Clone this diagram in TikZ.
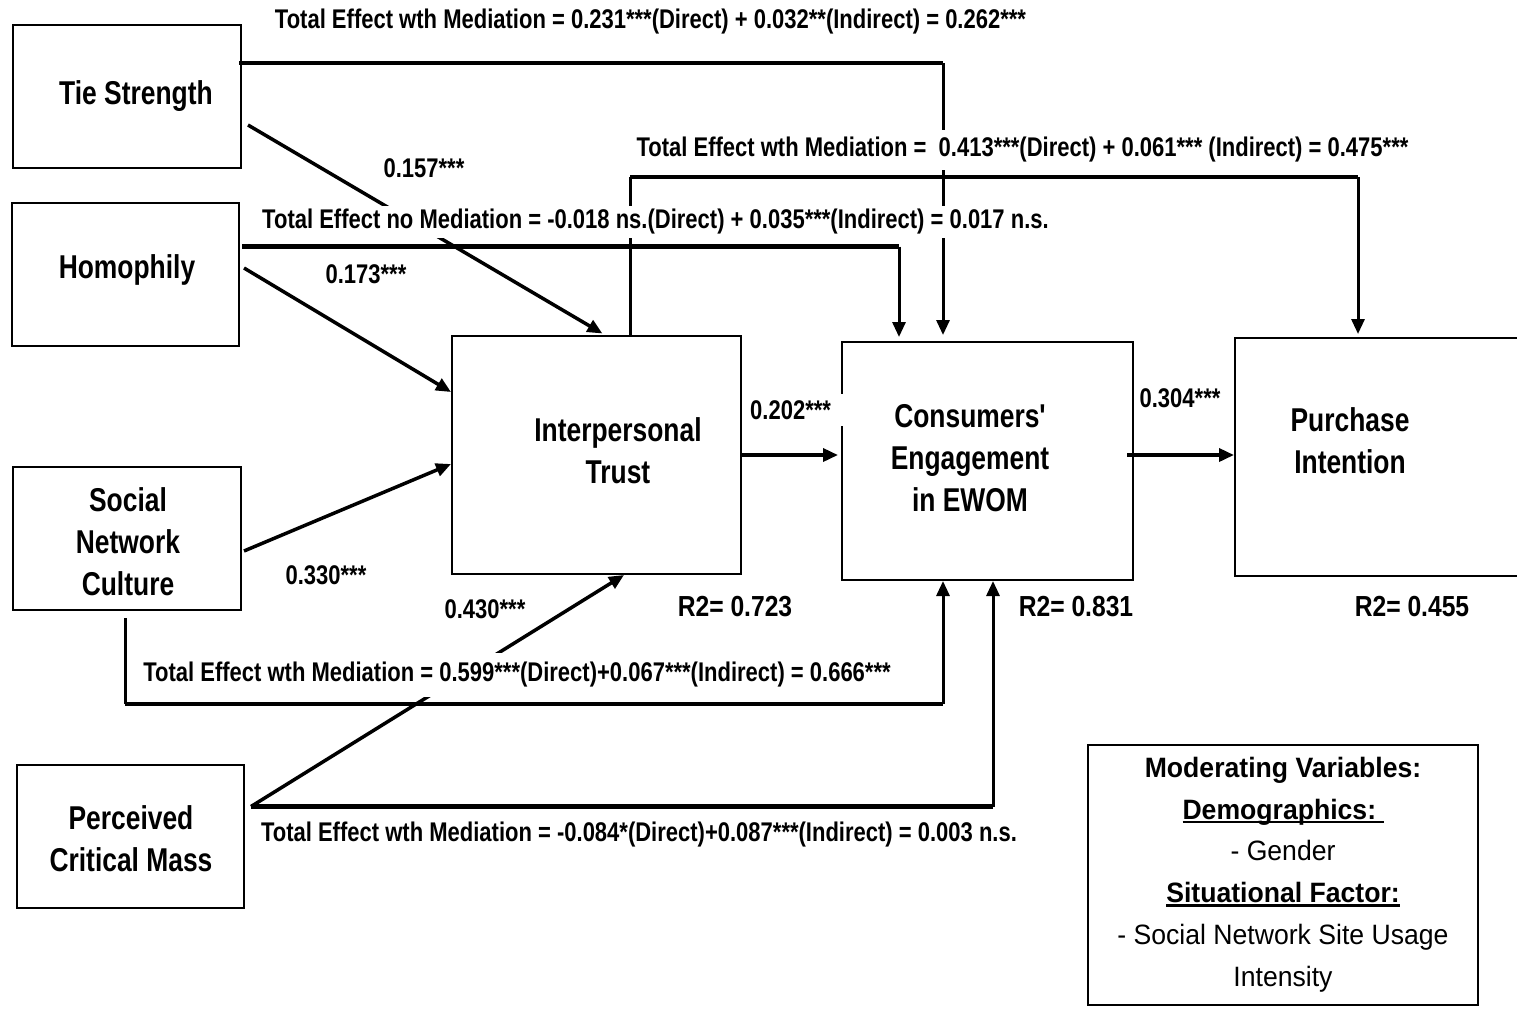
\documentclass[tikz,border=0pt]{standalone}
\usepackage{fontspec}
\setmainfont{Liberation Sans}
\newfontfamily\boxfont{Liberation Sans}[FakeStretch=0.8,Ligatures=TeXOff]
\newfontfamily\labfont{Liberation Sans}[FakeStretch=0.815]
\newfontfamily\rfont{Liberation Sans}[FakeStretch=0.85]
\newfontfamily\modfont{Liberation Sans}[FakeStretch=0.95]
\usetikzlibrary{arrows.meta,calc}
\newsavebox\ulbox
\newcommand\myul[1]{\sbox\ulbox{#1}\rlap{\rule[-4pt]{\wd\ulbox}{2.5pt}}\usebox\ulbox}
\begin{document}
\begin{tikzpicture}[x=1pt,y=-1pt,
  box/.style={draw, line width=2pt, rectangle, inner sep=0pt},
  boxtxt/.style={font=\boxfont\bfseries\fontsize{33}{42}\selectfont, align=center, inner sep=0pt},
  lab/.style={font=\labfont\bfseries\fontsize{27}{30}\selectfont, inner sep=1pt},
  labw/.style={lab, fill=white, inner ysep=6pt},
  r2/.style={font=\rfont\bfseries\fontsize{29}{32}\selectfont, inner sep=1pt},
  modtxt/.style={font=\modfont\fontsize{28}{41.8}\selectfont, align=center, inner sep=0pt},
  hline/.style={line width=4.5pt},
  vline/.style={line width=3pt},
  diag/.style={line width=3.5pt},
  tip/.style={-{Triangle[length=15pt,width=13pt]}}
]
\fill[white] (0,0) rectangle (1517,1010);
\useasboundingbox (0,0) rectangle (1517,1010);

% boxes
\node[box, minimum width=228pt, minimum height=143pt] (ts)  at (127,96.5) {};
\node[box, minimum width=227pt, minimum height=143pt] (hom) at (125.5,274.5) {};
\node[box, minimum width=228pt, minimum height=143pt] (snc) at (127,538.5) {};
\node[box, minimum width=227pt, minimum height=143pt] (pcm) at (130.5,836.5) {};
\node[box, minimum width=289pt, minimum height=238pt] (it)  at (596.5,455) {};
\node[box, minimum width=291pt, minimum height=238pt] (ce)  at (987.5,461) {};
\node[box, minimum width=285pt, minimum height=238pt] (pi)  at (1377.5,457) {};
\node[box, minimum width=390pt, minimum height=260pt] (mod) at (1283,875) {};

% box texts
\node[boxtxt] (tst)  at (136,96) {Tie Strength};
\node[boxtxt] (homt) at (127,270) {Homophily};
\node[boxtxt] (snct) at (128,542) {Social\\Network\\Culture};
\node[boxtxt] (pcmt) at (131,839) {Perceived\\Critical Mass};
\node[boxtxt] (itt)  at (618,451) {Interpersonal\\Trust};
\node[boxtxt] (cet)  at (970,458) {Consumers'\\Engagement\\in EWOM};
\node[boxtxt] (pit)  at (1350,441) {Purchase\\Intention};
\node[modtxt] (modt) at (1283,874.5) {\textbf{Moderating Variables:}\\
  \textbf{\myul{Demographics:\ }}\\
  - Gender\\
  \textbf{\myul{Situational Factor:}}\\
  - Social Network Site Usage\\
  Intensity};

% Tie strength -> CE (top)
\coordinate (tsA) at ([xshift=-3pt,yshift=33.5pt]ts.east);
\coordinate (ceT1) at ([xshift=-44.5pt]ce.north);
\draw[hline] (tsA) -- (tsA -| ceT1) coordinate (k1);
\draw[vline,tip,shorten >=6pt] (k1) -- (ceT1);

% IT -> PI (top)
\coordinate (itT) at ([xshift=33.5pt]it.north);
\coordinate (piT) at ([xshift=-19.5pt]pi.north);
\coordinate (k2) at ($(itT)+(0,-158)$);
\draw[vline] (itT) -- (k2);
\draw[hline] (k2) -- (k2 -| piT) coordinate (k3);
\draw[vline,tip,shorten >=3pt] (k3) -- (piT);

% Homophily -> CE (top)
\coordinate (homA) at ([xshift=2pt,yshift=28pt]hom.east);
\coordinate (ceT2) at ([xshift=-88.5pt]ce.north);
\draw[hline] (homA) -- (homA -| ceT2) coordinate (k4);
\draw[vline,tip,shorten >=4pt] (k4) -- (ceT2);

% diagonals into IT
\draw[diag,tip,shorten >=3pt] ([xshift=6pt,yshift=-28.5pt]ts.east) -- ([xshift=8.5pt]it.north);
\draw[diag,tip] ([xshift=4pt,yshift=6.5pt]hom.east) -- ([yshift=63pt]it.west);
\draw[diag,tip] ([xshift=2pt,yshift=-12.5pt]snc.east) -- ([yshift=-9pt]it.west);
\coordinate (pcmA) at ([xshift=6pt,yshift=30pt]pcm.east);
\draw[diag,tip] (pcmA) -- ([xshift=27.5pt]it.south);

% SNC -> CE (bottom)
\coordinate (sncB) at ([xshift=-2pt,yshift=-7pt]snc.south);
\coordinate (ceB1) at ([xshift=-44.5pt]ce.south);
\draw[vline] (sncB) -- ++(0,86) coordinate (k5);
\draw[hline] (k5) -- (k5 -| ceB1) coordinate (k6);
\draw[vline,tip] (k6) -- (ceB1);

% PCM -> CE (bottom)
\coordinate (ceB2) at ([xshift=5.5pt]ce.south);
\draw[hline] (pcmA) -- (pcmA -| ceB2) coordinate (k7);
\draw[vline,tip] (k7) -- (ceB2);

% IT -> CE, CE -> PI
\draw[diag,tip,shorten >=3pt] (it.east) -- (it.east -| ce.west);
\coordinate (ceR) at ([xshift=-7pt,yshift=6pt]ce.east);
\draw[diag,tip] (ceR) -- (ceR -| pi.west);

% labels
\node[lab] (l1) at (650.5,22) {Total Effect wth Mediation = 0.231***(Direct) + 0.032**(Indirect) = 0.262***};
\node[labw, inner ysep=7pt] (l2) at (1022.5,150) {Total Effect wth Mediation = \ 0.413***(Direct) + 0.061*** (Indirect) = 0.475***};
\node[labw, inner ysep=3pt] (l3) at (655.5,222) {Total Effect no Mediation = -0.018 ns.(Direct) + 0.035***(Indirect) = 0.017 n.s.};
\node[lab] (l157) at (424,168) {0.157***};
\node[lab] (l173) at (366,274) {0.173***};
\node[lab] (l330) at (326,575) {0.330***};
\node[lab] (l430) at (485,609) {0.430***};
\node[labw, anchor=west, text width=92pt, align=left, inner xsep=2pt] (l202) at (748,410) {0.202***};
\node[lab] (l304) at (1180,398) {0.304***};
\node[r2] (r1) at (735,607) {R2= 0.723};
\node[r2] (r2n) at (1076,607) {R2= 0.831};
\node[r2] (r3) at (1412,607) {R2= 0.455};
\node[labw, inner ysep=9pt] (l4) at (517,675) {Total Effect wth Mediation = 0.599***(Direct)+0.067***(Indirect) = 0.666***};
\node[lab] (l5) at (639,835) {Total Effect wth Mediation = -0.084*(Direct)+0.087***(Indirect) = 0.003 n.s.};
\end{tikzpicture}
\end{document}
